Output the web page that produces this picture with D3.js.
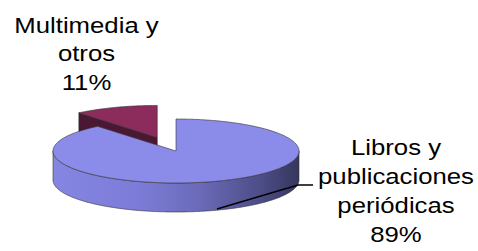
<!DOCTYPE html>
<html>
<head>
<meta charset="utf-8">
<style>
body { margin: 0; background: #fff; }
svg { display: block; }
text { font-family: "Liberation Sans", Arial, sans-serif; fill: #000; }
</style>
</head>
<body>
<svg id="chart" width="478" height="251"></svg>
<script src="https://cdn.jsdelivr.net/npm/d3@7/dist/d3.min.js"></script>
<script>
// data
var categories = ["Libros y publicaciones periódicas", "Multimedia y otros"];
var values = [89, 11];
var labelLines = [["Libros y", "publicaciones", "periódicas"], ["Multimedia y", "otros"]];
var topColors = ["#8b8bea", "#8c2c5c"];
var faceColors = ["#5a5aa8", "#4a1833"];

var svg = d3.select("#chart");
var cx = 176, cy = 151, rx = 123, ry = 32, depth = 29;
var explode = [0, 0.45];

var pie = d3.pie().sort(null).value(function(d) { return d; });
var arcs = pie(values);

function pt(a, ox, oy, dz) {
  return [ox + rx * Math.sin(a), oy - ry * Math.cos(a) + (dz || 0)];
}
function arcPts(a0, a1, ox, oy, dz) {
  var n = Math.max(2, Math.ceil(Math.abs(a1 - a0) / 0.02));
  return d3.range(n + 1).map(function(i) { return pt(a0 + (a1 - a0) * i / n, ox, oy, dz); });
}
var line = d3.line();

// side gradient, light on the left, dark on the right
var defs = svg.append("defs");
var grad = defs.append("linearGradient").attr("id", "side0")
    .attr("gradientUnits", "userSpaceOnUse")
    .attr("x1", cx - rx).attr("x2", cx + rx).attr("y1", 0).attr("y2", 0);
grad.selectAll("stop")
  .data([[0, "#8585e2"], [0.35, "#7c7cd8"], [0.6, "#6a6ab8"], [0.85, "#4c4c86"], [1, "#36365e"]])
  .enter().append("stop")
    .attr("offset", function(d) { return d[0]; })
    .attr("stop-color", function(d) { return d[1]; });

var stroke = "#333";

// exploded slice first (it sits behind), then the big one
[1, 0].forEach(function(i) {
  var a = arcs[i];
  var mid = (a.startAngle + a.endAngle) / 2;
  var ox = cx + explode[i] * rx * Math.sin(mid);
  var oy = cy - explode[i] * ry * Math.cos(mid);
  var g = svg.append("g");

  // start cut face, only when it turns toward the viewer
  var s = a.startAngle;
  if (Math.cos(s - Math.PI / 2) < -1e-6) {
    var p = pt(s, ox, oy);
    g.append("path")
      .attr("d", line([[ox, oy], p, [p[0], p[1] + depth], [ox, oy + depth]]) + "Z")
      .attr("fill", faceColors[i]).attr("stroke", stroke).attr("stroke-width", 0.6);
  }

  // outer side, front half only
  var lo = Math.max(a.startAngle, Math.PI / 2), hi = Math.min(a.endAngle, 3 * Math.PI / 2);
  if (hi > lo) {
    var topE = arcPts(lo, hi, ox, oy, 0);
    var botE = arcPts(hi, lo, ox, oy, depth);
    g.append("path")
      .attr("d", line(topE.concat(botE)) + "Z")
      .attr("fill", i === 0 ? "url(#side0)" : faceColors[i])
      .attr("stroke", stroke).attr("stroke-width", 0.6);
  }

  // top surface
  g.append("path")
    .attr("d", line([[ox, oy]].concat(arcPts(a.startAngle, a.endAngle, ox, oy, 0))) + "Z")
    .attr("fill", topColors[i]).attr("stroke", stroke).attr("stroke-width", 0.6);
});

// leader line for the big slice
svg.append("path")
  .attr("d", line([[217, 209], [298, 185], [313, 185]]))
  .attr("fill", "none").attr("stroke", "#000").attr("stroke-width", 1.5);

// labels (the source text is a bit stretched sideways)
var labelPos = [[396, 155], [86.5, 32.5]];
var lineH = 29;
labelPos.forEach(function(pos, i) {
  var lines = labelLines[i].concat([values[i] + "%"]);
  var g = svg.append("g")
    .attr("transform", "translate(" + pos[0] + "," + pos[1] + ") scale(1.17,1)");
  g.selectAll("text").data(lines).enter().append("text")
    .attr("x", 0)
    .attr("y", function(d, j) { return j * lineH; })
    .attr("text-anchor", "middle")
    .attr("font-size", 22)
    .text(function(d) { return d; });
});
</script>
</body>
</html>
